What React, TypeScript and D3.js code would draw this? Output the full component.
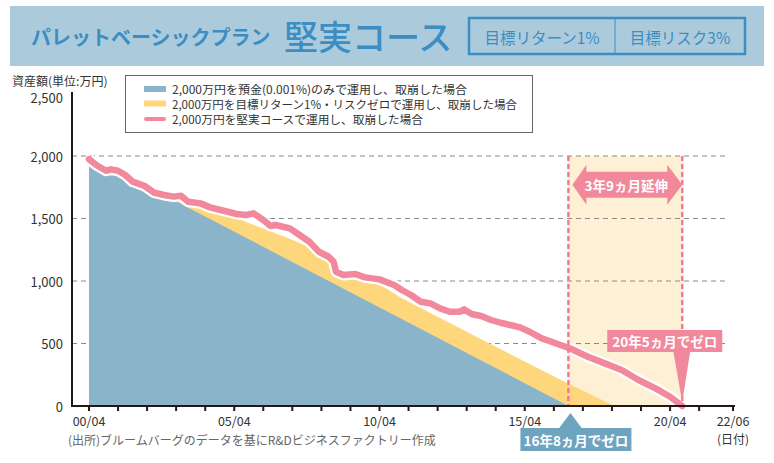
import * as d3 from 'd3'

// 堅実コース: 2,000万円を取崩した場合の資産額推移（万円）
const blueDates = ['2000-04', '2016-10']
const blueValues = [2000, 0]

const yellowDates = ['2000-04', '2004-04', '2007-04', '2009-04', '2011-01', '2014-06', '2016-07', '2018-05']
const yellowValues = [2000, 1600, 1330, 1120, 865, 455, 208, 0]

const pinkDates = [
  '2000-04', '2000-07', '2000-11', '2001-01', '2001-04', '2001-07', '2001-10', '2001-12',
  '2002-03', '2002-07', '2002-11', '2003-03', '2003-06', '2003-09', '2004-02', '2004-06',
  '2004-12', '2005-05', '2005-09', '2005-12', '2006-04', '2006-07', '2006-09', '2007-03',
  '2007-07', '2007-11', '2008-03', '2008-07', '2008-09', '2008-10', '2009-01', '2009-06',
  '2009-10', '2010-04', '2010-10', '2011-01', '2011-05', '2011-09', '2012-01', '2012-05',
  '2012-09', '2013-01', '2013-03', '2013-06', '2013-10', '2014-02', '2014-06', '2014-10',
  '2015-02', '2015-06', '2015-11', '2016-03', '2016-07', '2016-11', '2017-06', '2018-01',
  '2018-08', '2019-03', '2019-10', '2020-04', '2020-09',
]
const pinkValues = [
  1975, 1928, 1882, 1893, 1882, 1848, 1795, 1781,
  1760, 1706, 1688, 1675, 1682, 1634, 1621, 1589,
  1560, 1536, 1528, 1541, 1488, 1440, 1448, 1421,
  1368, 1314, 1234, 1194, 1154, 1074, 1048, 1056,
  1029, 1013, 968, 930, 888, 834, 821, 781,
  754, 754, 773, 736, 720, 688, 666, 648,
  629, 594, 541, 514, 486, 458, 394, 341,
  288, 208, 141, 74, 0,
]

const yTicks = [0, 500, 1000, 1500, 2000, 2500]
const gridValues = [500, 1000, 1500, 2000]
const xLabelDates = ['2000-04', '2005-04', '2010-04', '2015-04', '2020-04', '2022-06']
const xLabels = ['00/04', '05/04', '10/04', '15/04', '20/04', '22/06']

const legendLabels = [
  '2,000万円を預金(0.001%)のみで運用し、取崩した場合',
  '2,000万円を目標リターン1%・リスクゼロで運用し、取崩した場合',
  '2,000万円を堅実コースで運用し、取崩した場合',
]
const legendWidths = [295, 345, 251]

const BLUE = '#8ab4ca'
const YELLOW = '#fed67c'
const PINK = '#f2889c'
const FONT = '"Noto Sans CJK JP", "Noto Sans", sans-serif'

const parse = (s: string) => {
  const [yy, mm] = s.split('-').map(Number)
  return new Date(yy, mm - 1, 1)
}

type Pt = { date: Date; value: number }
const toPts = (dates: string[], values: number[]): Pt[] =>
  dates.map((d, i) => ({ date: parse(d), value: values[i] }))

export default function App() {
  const width = 774
  const height = 463

  const x = d3.scaleTime().domain([parse('2000-04'), parse('2022-06')]).range([89, 733])
  const y = d3.scaleLinear().domain([0, 2500]).range([406, 93.5])

  const blue = toPts(blueDates, blueValues)
  const yellow = toPts(yellowDates, yellowValues)
  const pink = toPts(pinkDates, pinkValues)

  const area = d3
    .area<Pt>()
    .x((d) => x(d.date))
    .y0(y(0))
    .y1((d) => y(d.value))
  const line = d3
    .line<Pt>()
    .x((d) => x(d.date))
    .y((d) => y(d.value))

  const blueZero = x(blue[blue.length - 1].date)
  const pinkZero = x(pink[pink.length - 1].date)

  const yearTicks = d3.timeYear
    .range(parse('2000-01'), parse('2022-01'))
    .map((d) => new Date(d.getFullYear(), 3, 1))

  const arrowY = y(1770)
  const arrowPath = [
    [blueZero + 4, arrowY],
    [blueZero + 18, arrowY - 20],
    [blueZero + 18, arrowY - 13],
    [pinkZero - 15, arrowY - 13],
    [pinkZero - 15, arrowY - 20],
    [pinkZero, arrowY],
    [pinkZero - 15, arrowY + 20],
    [pinkZero - 15, arrowY + 13],
    [blueZero + 18, arrowY + 13],
    [blueZero + 18, arrowY + 20],
  ]

  const pinkBoxY = y(520)
  const blueTipX = blueZero + 2

  return (
    <svg
      width={width}
      height={height}
      style={{ position: 'absolute', left: 0, top: 0, background: '#fff' }}
      fontFamily={FONT}
    >
      <defs>
        <clipPath id="under-pink">
          <path d={area(pink) || ''} />
        </clipPath>
      </defs>

      {/* header */}
      <rect x={10} y={6} width={754} height={60} fill="#abcbdc" />
      <text x={31} y={36} dominantBaseline="central" fontSize={20} fontWeight={700} fill="#3b8dc2">
        パレットベーシックプラン
      </text>
      <text x={284} y={35} dominantBaseline="central" fontSize={34} fontWeight={500} fill="#3b8dc2">
        堅実コース
      </text>
      <rect x={469} y={18} width={276} height={36} fill="none" stroke="#3b8dc2" strokeWidth={2.5} />
      <line x1={615} x2={615} y1={18} y2={54} stroke="#3b8dc2" strokeWidth={1} />
      <text x={542} y={36.5} textAnchor="middle" dominantBaseline="central" fontSize={15.5} fill="#3b8dc2">
        目標リターン1%
      </text>
      <text x={680} y={36.5} textAnchor="middle" dominantBaseline="central" fontSize={15.5} fill="#3b8dc2">
        目標リスク3%
      </text>

      {/* extension band */}
      <rect x={blueZero} y={y(2000)} width={pinkZero - blueZero} height={y(0) - y(2000)} fill="#fef0d4" />

      {/* grid */}
      {gridValues.map((v) => (
        <line
          key={v}
          x1={72}
          x2={727}
          y1={y(v)}
          y2={y(v)}
          stroke="#8a8a8a"
          strokeWidth={1.2}
          strokeDasharray="5 4"
        />
      ))}

      {/* areas */}
      <g clipPath="url(#under-pink)">
        <path d={area(yellow) || ''} fill={YELLOW} />
        <path d={area(blue) || ''} fill={BLUE} />
      </g>

      {/* pink line with white halo */}
      <path d={line(pink) || ''} fill="none" stroke="#fff" strokeWidth={11} strokeLinejoin="round" />
      <path
        d={line(pink) || ''}
        fill="none"
        stroke={PINK}
        strokeWidth={6.5}
        strokeLinejoin="round"
        strokeLinecap="round"
      />

      {/* dashed markers */}
      {[blueZero, pinkZero].map((px) => (
        <line
          key={px}
          x1={px}
          x2={px}
          y1={y(2000)}
          y2={y(0)}
          stroke="#f47b97"
          strokeWidth={2.5}
          strokeDasharray="5 3"
        />
      ))}

      {/* axes */}
      <line x1={72} x2={72} y1={92} y2={407} stroke="#231815" strokeWidth={2} />
      <line x1={71} x2={735} y1={406} y2={406} stroke="#231815" strokeWidth={2} />
      {yearTicks.map((d) => (
        <line key={+d} x1={x(d)} x2={x(d)} y1={406} y2={411} stroke="#231815" strokeWidth={2} />
      ))}
      <line x1={x(parse('2022-06'))} x2={x(parse('2022-06'))} y1={406} y2={411} stroke="#231815" strokeWidth={2} />
      {yTicks.map((v) => (
        <text
          key={v}
          x={63}
          y={y(v) + (v === 2500 ? 3.5 : 0)}
          textAnchor="end"
          dominantBaseline="central"
          fontSize={13}
          fill="#333"
        >
          {d3.format(',')(v)}
        </text>
      ))}
      {xLabelDates.map((d, i) => (
        <text
          key={d}
          x={x(parse(d))}
          y={420}
          textAnchor="middle"
          dominantBaseline="central"
          fontSize={12.5}
          fill="#333"
        >
          {xLabels[i]}
        </text>
      ))}
      <text x={x(parse('2022-06'))} y={438.5} textAnchor="middle" dominantBaseline="central" fontSize={12} fill="#333">
        (日付)
      </text>
      <text x={12} y={80} dominantBaseline="central" fontSize={12} fill="#333">
        資産額(単位:万円)
      </text>
      <text x={68} y={439} dominantBaseline="central" fontSize={12} fill="#666">
        (出所)ブルームバーグのデータを基にR&amp;Dビジネスファクトリー作成
      </text>

      {/* legend */}
      <rect x={125.5} y={75.5} width={407} height={57} fill="#fff" stroke="#666" strokeWidth={1} />
      <rect x={144} y={86} width={22} height={6} fill={BLUE} />
      <rect x={144} y={100.5} width={22} height={6} fill={YELLOW} />
      <line x1={146} x2={164} y1={119} y2={119} stroke={PINK} strokeWidth={4} strokeLinecap="round" />
      {legendLabels.map((t, i) => (
        <text
          key={t}
          x={172}
          y={[88.5, 103.5, 119][i]}
          dominantBaseline="central"
          fontSize={11.5}
          textLength={legendWidths[i]}
          lengthAdjust="spacingAndGlyphs"
          fill="#333"
        >
          {t}
        </text>
      ))}

      {/* annotations */}
      <polygon points={arrowPath.map((p) => p.join(',')).join(' ')} fill={PINK} />
      <text
        x={(blueZero + pinkZero) / 2 + 1}
        y={arrowY}
        textAnchor="middle"
        dominantBaseline="central"
        fontSize={13.5}
        fontWeight={700}
        fill="#fff"
      >
        3年9ヵ月延伸
      </text>

      <polygon
        points={`${pinkZero - 9},${pinkBoxY + 10} ${pinkZero + 8},${pinkBoxY + 10} ${pinkZero},${y(30)}`}
        fill={PINK}
      />
      <rect x={pinkZero - 75} y={pinkBoxY - 11} width={115} height={22} fill={PINK} />
      <text
        x={pinkZero - 17.5}
        y={pinkBoxY}
        textAnchor="middle"
        dominantBaseline="central"
        fontSize={13.5}
        fontWeight={700}
        fill="#fff"
      >
        20年5ヵ月でゼロ
      </text>

      <polygon
        points={`${blueTipX},413 ${blueTipX - 12},429 ${blueTipX + 12},429`}
        fill="#6fa4c0"
      />
      <rect x={blueTipX - 50} y={428} width={111} height={23} fill="#6fa4c0" />
      <text
        x={blueTipX + 5.5}
        y={439.5}
        textAnchor="middle"
        dominantBaseline="central"
        fontSize={13.5}
        fontWeight={700}
        fill="#fff"
      >
        16年8ヵ月でゼロ
      </text>
    </svg>
  )
}
